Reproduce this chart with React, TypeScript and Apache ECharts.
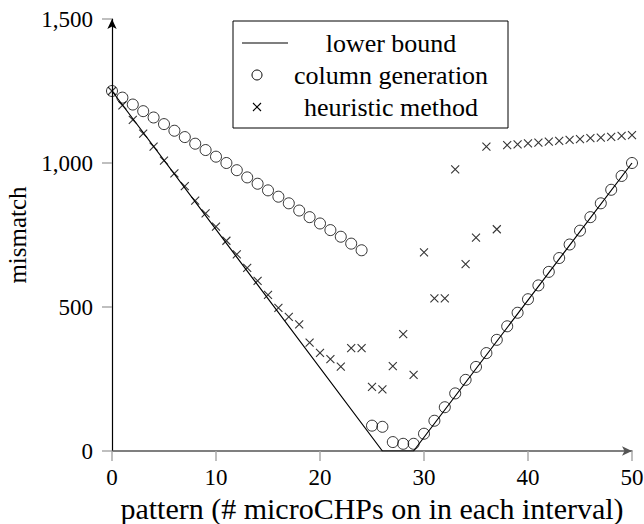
import React, { useEffect, useRef } from "react";
import * as echarts from "echarts";

const lowerBoundX = [0, 26, 29, 50];
const lowerBoundY = [1250, 0, 0, 1000];

const columnGenX = [
  0, 1, 2, 3, 4, 5, 6, 7, 8, 9, 10, 11, 12, 13, 14, 15, 16, 17, 18, 19, 20, 21, 22, 23, 24,
  25, 26, 27, 28, 29, 30, 31, 32, 33, 34, 35, 36, 37, 38, 39, 40, 41, 42, 43, 44, 45, 46, 47, 48, 49, 50,
];
const columnGenY = [
  1250, 1227, 1203, 1180, 1158, 1135, 1112, 1090, 1067, 1045, 1022, 1000, 975, 950, 928, 905, 883, 860, 835, 812, 790, 767, 744, 720, 697,
  88, 84, 31, 25, 25, 60, 105, 152, 200, 247, 292, 340, 386, 433, 480, 527, 575, 622, 670, 717, 765, 812, 860, 907, 955, 1000,
];

const heuristicX = columnGenX;
const heuristicY = [
  1250, 1200, 1150, 1102, 1057, 1008, 964, 920, 869, 825, 779, 730, 683, 636, 591, 542, 497, 466, 440, 376, 341, 319, 293, 357, 357,
  223, 214, 295, 406, 264, 690, 530, 530, 978, 649, 741, 1057, 770, 1062, 1065, 1068, 1071, 1074, 1077, 1080, 1083, 1086, 1088, 1091, 1094, 1097,
];

const xTicks = { min: 0, max: 50, interval: 10 };
const yTicks = { min: 0, max: 1500, interval: 500 };

const legendLabels = ["lower bound", "column generation", "heuristic method"];

const FONT = "'Liberation Serif', 'Times New Roman', serif";

export default function App() {
  const ref = useRef<HTMLDivElement>(null);
  useEffect(() => {
    if (!ref.current) return;
    const chart = echarts.init(ref.current, null, { renderer: "svg" });
    const zip = (xs: number[], ys: number[]) => xs.map((x, i) => [x, ys[i]]);
    const legX = 233, legY = 21, legW = 275, legH = 107;
    const rowY = [43, 75, 107];
    const symX = 257;
    const txtX = 391;
    chart.setOption({
      animation: false,
      backgroundColor: "#fff",
      textStyle: { fontFamily: FONT },
      grid: {
        left: 112,
        right: 12,
        top: 19,
        bottom: 73,
        containLabel: false,
        outerBoundsMode: "none",
      },
      xAxis: {
        type: "value",
        min: xTicks.min,
        max: xTicks.max,
        interval: xTicks.interval,
        name: "pattern (# microCHPs on in each interval)",
        nameLocation: "middle",
        nameGap: 42,
        nameTextStyle: { fontFamily: FONT, fontSize: 30, color: "#000" },
        axisLine: {
          show: true,
          symbol: ["none", "arrow"],
          symbolSize: [7, 10],
          lineStyle: { color: "#555", width: 1.5 },
        },
        axisTick: { show: true, length: 10, lineStyle: { color: "#aaa", width: 1.5 } },
        axisLabel: { fontFamily: FONT, fontSize: 23, color: "#000", margin: 15 },
        splitLine: { show: false },
      },
      yAxis: {
        type: "value",
        min: yTicks.min,
        max: yTicks.max,
        interval: yTicks.interval,
        name: "mismatch",
        nameLocation: "middle",
        nameGap: 82,
        nameRotate: 90,
        nameTextStyle: { fontFamily: FONT, fontSize: 25, color: "#000" },
        axisLine: {
          show: true,
          symbol: ["none", "arrow"],
          symbolSize: [7, 10],
          lineStyle: { color: "#000", width: 1.2 },
        },
        axisTick: { show: true, length: 10, lineStyle: { color: "#aaa", width: 1.5 } },
        axisLabel: {
          fontFamily: FONT,
          fontSize: 23,
          color: "#000",
          margin: 19,
          formatter: (v: number) => v.toLocaleString("en-US"),
        },
        splitLine: { show: false },
      },
      series: [
        {
          name: legendLabels[0],
          type: "line",
          data: zip(lowerBoundX, lowerBoundY),
          symbol: "none",
          lineStyle: { color: "#000", width: 1.2 },
          z: 2,
        },
        {
          name: legendLabels[1],
          type: "scatter",
          data: zip(columnGenX, columnGenY),
          symbol: "circle",
          symbolSize: 11,
          itemStyle: { color: "rgba(0,0,0,0)", borderColor: "#000", borderWidth: 1 },
          z: 3,
        },
        {
          name: legendLabels[2],
          type: "scatter",
          data: zip(heuristicX, heuristicY),
          symbol: "path://M0,0L10,10M10,0L0,10",
          symbolSize: 8,
          itemStyle: { color: "rgba(0,0,0,0)", borderColor: "#000", borderWidth: 1.1 },
          z: 4,
        },
      ],
      graphic: [
        {
          type: "rect",
          shape: { x: legX, y: legY, width: legW, height: legH },
          style: { fill: "#fff", stroke: "#000", lineWidth: 1 },
          z: 100,
        },
        {
          type: "line",
          shape: { x1: 242, y1: rowY[0], x2: 288, y2: rowY[0] },
          style: { stroke: "#000", lineWidth: 1.2 },
          z: 101,
        },
        {
          type: "circle",
          shape: { cx: symX, cy: rowY[1], r: 5 },
          style: { fill: "none", stroke: "#000", lineWidth: 1 },
          z: 101,
        },
        {
          type: "line",
          shape: { x1: symX - 4, y1: rowY[2] - 4, x2: symX + 4, y2: rowY[2] + 4 },
          style: { stroke: "#000", lineWidth: 1.1 },
          z: 101,
        },
        {
          type: "line",
          shape: { x1: symX - 4, y1: rowY[2] + 4, x2: symX + 4, y2: rowY[2] - 4 },
          style: { stroke: "#000", lineWidth: 1.1 },
          z: 101,
        },
        ...legendLabels.map((t, i) => ({
          type: "text",
          x: txtX,
          y: rowY[i],
          style: {
            text: t,
            fill: "#000",
            font: `26px ${FONT}`,
            textAlign: "center",
            textVerticalAlign: "middle",
          },
          z: 101,
        })),
      ],
    });
    return () => chart.dispose();
  }, []);
  return (
    <div
      ref={ref}
      style={{ position: "absolute", left: 0, top: 0, width: 644, height: 524, background: "#fff" }}
    />
  );
}
